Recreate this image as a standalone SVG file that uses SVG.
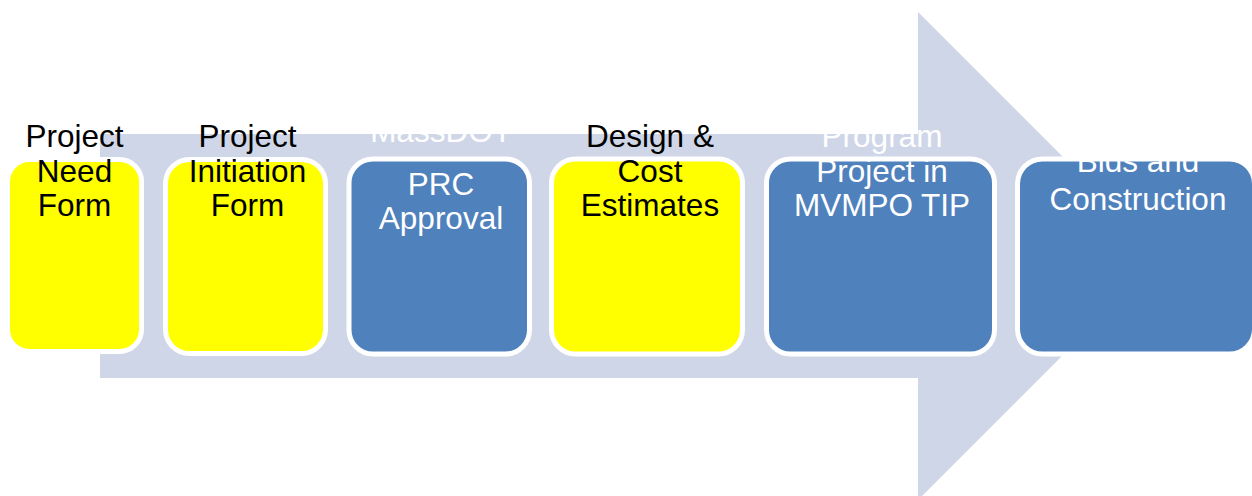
<svg xmlns="http://www.w3.org/2000/svg" width="1252" height="496" viewBox="0 0 1252 496">
  <style>
    .step { stroke: #FFFFFF; stroke-width: 5; }
    .yellow { fill: #FFFF00; }
    .blue { fill: #4F81BD; }
    .label { font-family: "Liberation Sans", Arial, sans-serif; font-size: 31.5px; text-anchor: middle; }
    .dark { fill: #000000; }
    .light { fill: #FFFFFF; }
  </style>

  <rect width="1252" height="496" fill="#FFFFFF"/>

  <!-- Background process arrow running left to right -->
  <g id="connectors">
    <path d="M100 134 H918 V12 L1162 256 L918 500 V378 H100 Z" fill="#CFD6E8"/>
  </g>

  <g id="step-need-form">
    <rect class="step yellow" x="7.5" y="159.5" width="134" height="192" rx="22" stroke-width="4"/>
    <text class="label dark" x="74.5" y="147">Project</text>
    <text class="label dark" x="74.5" y="182">Need</text>
    <text class="label dark" x="74.5" y="216">Form</text>
  </g>

  <g id="step-initiation-form">
    <rect class="step yellow" x="165.5" y="159.5" width="160" height="194" rx="24"/>
    <text class="label dark" x="247.5" y="147">Project</text>
    <text class="label dark" x="247.5" y="182">Initiation</text>
    <text class="label dark" x="247.5" y="216">Form</text>
  </g>

  <g id="step-prc-approval">
    <rect class="step blue" x="349" y="159" width="180.5" height="195" rx="24"/>
    <text class="label light" x="441" y="142">MassDOT</text>
    <text class="label light" x="441" y="195">PRC</text>
    <text class="label light" x="441" y="229">Approval</text>
  </g>

  <g id="step-design-cost">
    <rect class="step yellow" x="551.5" y="159" width="191" height="195" rx="24"/>
    <text class="label dark" x="650" y="147">Design &amp;</text>
    <text class="label dark" x="650" y="182">Cost</text>
    <text class="label dark" x="650" y="216">Estimates</text>
  </g>

  <g id="step-program-tip">
    <rect class="step blue" x="766.5" y="159" width="228" height="195" rx="24"/>
    <text class="label light" x="882" y="147">Program</text>
    <text class="label light" x="882" y="182">Project in</text>
    <text class="label light" x="882" y="216">MVMPO TIP</text>
  </g>

  <g id="step-bids-construction">
    <rect class="step blue" x="1017.5" y="159" width="237" height="195" rx="25"/>
    <text class="label light" x="1138" y="172">Bids and</text>
    <text class="label light" x="1138" y="210">Construction</text>
  </g>
</svg>
